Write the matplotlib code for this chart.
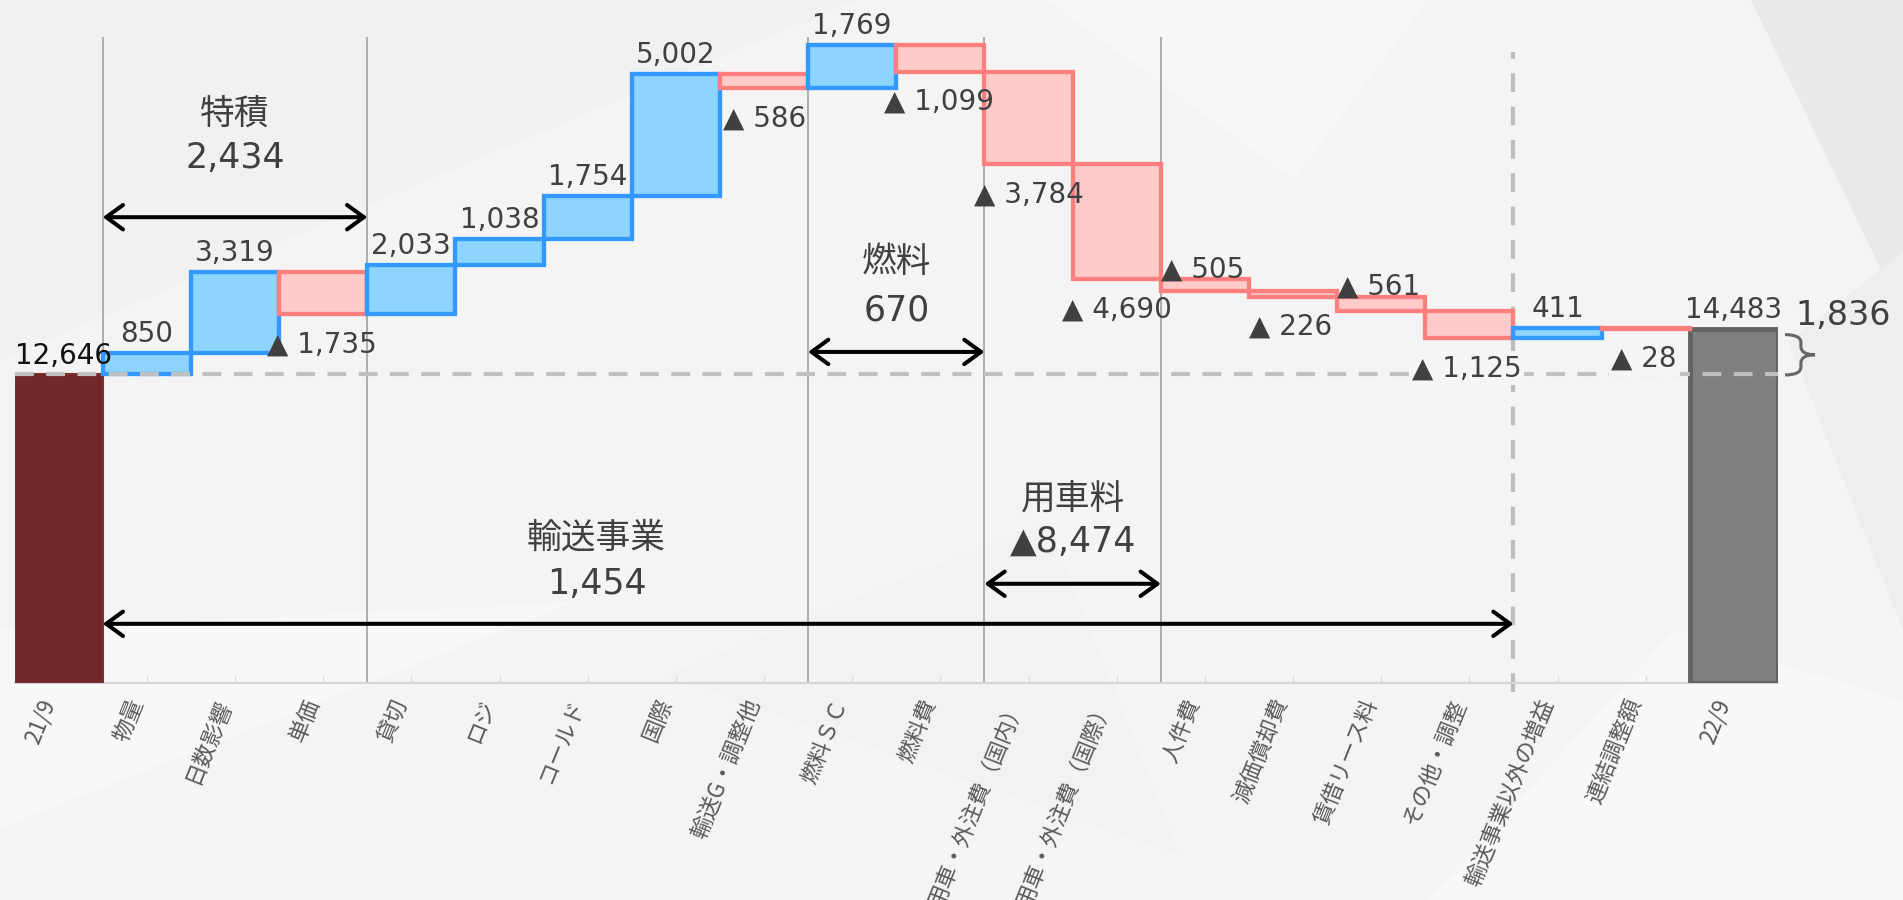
import matplotlib.pyplot as plt
import numpy as np
from matplotlib.patches import Polygon, PathPatch
from matplotlib.path import Path
from matplotlib.transforms import ScaledTranslation

# data
categories = ['21/9', '物量', '日数影響', '単価', '貸切', 'ロジ', 'コールド', '国際',
              '輸送G・調整他', '燃料ＳＣ', '燃料費', '用車・外注費（国内）', '用車・外注費（国際）',
              '人件費', '減価償却費', '賃借リース料', 'その他・調整', '輸送事業以外の増益',
              '連結調整額', '22/9']
start_total = 12646
end_total = 14483
deltas = [850, 3319, -1735, 2033, 1038, 1754, 5002, -586, 1769, -1099,
          -3784, -4690, -505, -226, -561, -1125, 411, -28]
group_names = ['特積', '燃料', '用車料', '輸送事業']
group_values = [2434, 670, -8474, 1454]
total_diff = 1836

plt.rcParams['font.family'] = ['DejaVu Sans', 'Noto Sans CJK JP']

fig = plt.figure(figsize=(19.03, 9), dpi=100, facecolor='#f4f4f4')

# faint low-poly background
bg_polys = [
    ([(0, 1), (0.45, 1), (0.0, 0.6)], '#f1f1f1'),
    ([(0.55, 1), (0.75, 1), (0.68, 0.8)], '#f7f7f7'),
    ([(0.92, 1), (1, 1), (1, 0.65)], '#e9e9e9'),
    ([(0.94, 0.62), (1, 0.72), (1, 0.3)], '#eeeeee'),
    ([(0.35, 0.25), (0.62, 0.05), (0.55, 0.42)], '#f2f2f2'),
    ([(0, 0.3), (0.3, 0.33), (0, 0.08)], '#f8f8f8'),
    ([(0.75, 0.0), (0.88, 0.3), (1.0, 0.22), (1.0, 0.0)], '#f8f8f8'),
]
for pts, c in bg_polys:
    fig.patches.append(Polygon(pts, closed=True, transform=fig.transFigure,
                               facecolor=c, edgecolor='none', zorder=-10))

ymax = 27000
ax = fig.add_axes([14.6 / 1903, 1 - 683.3 / 900, (1778 - 14.6) / 1903, ymax * 0.02447 / 900])
ax.set_facecolor('none')
ax.set_xlim(-0.5, 19.5)
ax.set_ylim(0, ymax)

levels = start_total + np.cumsum([0] + deltas)

# total bars
ax.bar(0, start_total, width=1.0, color='#722828', edgecolor='#7c3030', lw=1.5, zorder=3)
ax.bar(19, end_total, width=1.0, color='#808080', edgecolor='#636363', lw=3.5, zorder=3)

# step bars
for i, d in enumerate(deltas):
    if d >= 0:
        fc, ec = '#8dd4ff', '#3399ff'
    else:
        fc, ec = '#ffcaca', '#ff7f7f'
    ax.bar(i + 1, d, bottom=levels[i], width=1.0, color=fc, edgecolor=ec, lw=3.1, zorder=3)

# separators
ax.vlines([0.5, 3.5, 8.5, 10.5, 12.5], 0, 26400, color='#a8a8a8', lw=1.3, zorder=1)
ax.plot([16.5, 16.5], [-350, 25800], color='#bdbdbd', lw=3, dashes=(4.5, 3.5),
        clip_on=False, zorder=2)
ax.plot([-0.5, 19.5], [start_total, start_total], color='#c0c0c0', lw=3,
        dashes=(4.5, 3), zorder=4)

lab_col = '#404040'
fs = 20

ax.text(0.05, start_total, f'{start_total:,}', ha='center', va='baseline', fontsize=fs,
        color='#111111', zorder=6, transform=ax.transData + ScaledTranslation(0, 10 / 100, fig.dpi_scale_trans))
ax.text(19, end_total, f'{end_total:,}', ha='center', va='baseline', fontsize=fs,
        color=lab_col, zorder=6, transform=ax.transData + ScaledTranslation(0, 11 / 100, fig.dpi_scale_trans))

# label placement for negative steps: (x shift in data units, above?)
neg_place = {2: (-0.14, False), 7: (0.04, False), 9: (-0.14, False), 10: (-0.12, False),
             11: (-0.12, False), 12: (0.0, True), 13: (0.0, False), 14: (0.0, True),
             15: (-0.15, False), 17: (0.11, False)}
boxed = {15, 17}

for i, d in enumerate(deltas):
    x = i + 1
    top = max(levels[i], levels[i + 1])
    bot = min(levels[i], levels[i + 1])
    if d >= 0:
        ax.text(x, top, f'{d:,}', ha='center', va='baseline', fontsize=fs, color=lab_col,
                zorder=6, transform=ax.transData + ScaledTranslation(0, 11 / 100, fig.dpi_scale_trans))
    else:
        dx, above = neg_place[i]
        y, off = (top, 2) if above else (bot, -38)
        bbox = dict(boxstyle='square,pad=0.1', fc='#f5f5f5', ec='none') if i in boxed else None
        ax.text(x - 0.5 + dx, y, f'▲ {-d:,}', ha='left', va='baseline', fontsize=fs,
                color=lab_col, zorder=6, bbox=bbox,
                transform=ax.transData + ScaledTranslation(0, off / 100, fig.dpi_scale_trans))

# group annotations
big = 25
arrow_kw = dict(arrowstyle='<->,head_length=0.55,head_width=0.4', lw=2.9, color='black',
                shrinkA=0, shrinkB=0, mutation_scale=22)
groups = [
    (0.5, 3.5, 2.0, 19048, 23264, 21478),
    (8.5, 10.5, 9.5, 13542, 17212, 15228),
    (10.5, 12.5, 11.5, 4067, 7540, 5804),
    (0.5, 16.5, 6.1, 2431, 5952, 4067),
]
for (x0, x1, xt, ya, yn, yv), name, val in zip(groups, group_names, group_values):
    ax.annotate('', xy=(x0, ya), xytext=(x1, ya), arrowprops=arrow_kw, zorder=7)
    ax.text(xt, yn, name, ha='center', va='center', fontsize=big, color=lab_col, zorder=7)
    vtxt = f'{val:,}' if val >= 0 else f'▲{-val:,}'
    ax.text(xt, yv, vtxt, ha='center', va='center', fontsize=big, color=lab_col, zorder=7)

# brace and difference
x0, xm, xt = 19.58, 19.76, 19.92
yt, yb = 14250, 12600
ym = (yt + yb) / 2
r = 330
verts = [(x0, yt), (xm, yt), (xm, yt - r), (xm, ym + r), (xm, ym), (xt, ym),
         (xm, ym), (xm, ym - r), (xm, yb + r), (xm, yb), (x0, yb)]
codes = [Path.MOVETO, Path.CURVE3, Path.CURVE3, Path.LINETO, Path.CURVE3, Path.CURVE3,
         Path.CURVE3, Path.CURVE3, Path.LINETO, Path.CURVE3, Path.CURVE3]
ax.add_patch(PathPatch(Path(verts, codes), fill=False, ec='#666666', lw=2.2, clip_on=False))
ax.text(20.24, 15030, f'{total_diff:,}', ha='center', va='center', fontsize=24,
        color=lab_col, clip_on=False)

# axes styling
for s in ['top', 'right', 'left']:
    ax.spines[s].set_visible(False)
ax.spines['bottom'].set_color('#d5d5d5')
ax.spines['bottom'].set_linewidth(1.5)
ax.set_yticks([])
ax.set_xticks(range(len(categories)))
ax.set_xticklabels(categories, rotation=68, ha='right', va='center', rotation_mode='anchor',
                   fontsize=16, color='#595959', family=['Noto Sans CJK JP', 'DejaVu Sans'])
ax.tick_params(axis='x', direction='in', length=5, color='#d5d5d5', pad=12)
for lbl in ax.get_xticklabels():
    lbl.set_transform(lbl.get_transform() + ScaledTranslation(-10 / 100, 0, fig.dpi_scale_trans))

fig.savefig('out.png', dpi=100, facecolor=fig.get_facecolor())
